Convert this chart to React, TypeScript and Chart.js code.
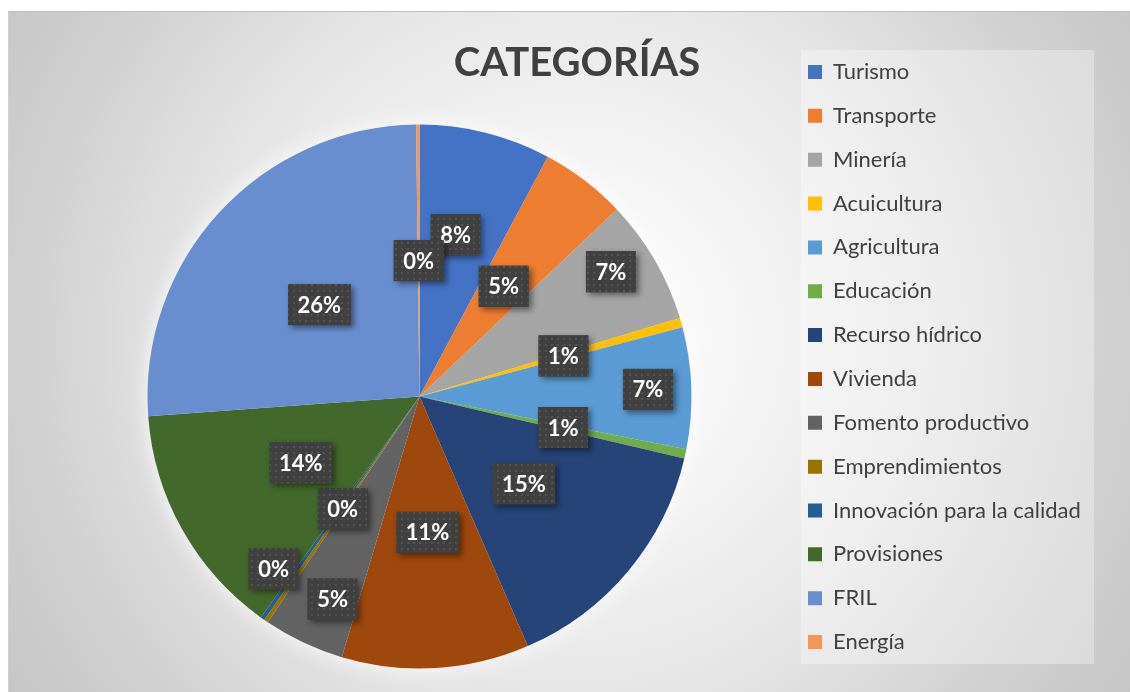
import React, { useEffect, useRef } from "react";
import { Chart, registerables } from "chart.js";

Chart.register(...registerables);

const categories = [
  "Turismo",
  "Transporte",
  "Minería",
  "Acuicultura",
  "Agricultura",
  "Educación",
  "Recurso hídrico",
  "Vivienda",
  "Fomento productivo",
  "Emprendimientos",
  "Innovación para la calidad",
  "Provisiones",
  "FRIL",
  "Energía",
];

const shares = [7.8, 5.1, 7.4, 0.55, 7.2, 0.55, 14.8, 11.1, 4.8, 0.25, 0.25, 13.9, 25.9, 0.2];

const colors = [
  "#4472C4", "#ED7D31", "#A5A5A5", "#FFC000", "#5B9BD5", "#70AD47", "#264478",
  "#9E480E", "#636363", "#997300", "#255E91", "#43682B", "#698ED0", "#F1975A",
];

// label placement (fraction of radius, angular nudge in degrees)
const labelRadius = [0.61, 0.51, 0.84, 0.55, 0.84, 0.54, 0.5, 0.5, 0.81, 0.5, 0.83, 0.5, 0.5, 0.5];
const labelTurn = [-1.5, 0, -3, 0, 0, 0, 0, 0, -2, 0, 5, 0, 0, 0];

const TITLE_TEXT = "CATEGORÍAS";
const FONT = "Lato";
const TEXT_COLOR = "#404040";
const LEG_FONT = 22;
const LEG_PAD = 21.85;
const LEG_LEFT = 777.15;
const TITLE_CENTER_X = 568;
const PIE_RADIUS = 272;

function makePattern(ctx: CanvasRenderingContext2D) {
  const c = document.createElement("canvas");
  c.width = 6;
  c.height = 6;
  const g = c.getContext("2d")!;
  g.fillStyle = "#404040";
  g.fillRect(0, 0, 6, 6);
  g.fillStyle = "#535353";
  g.fillRect(2, 2, 2, 2);
  return ctx.createPattern(c, "repeat");
}

const decorPlugin = {
  id: "decor",
  afterLayout(chart: any) {
    const tb = chart.titleBlock;
    if (tb) {
      const w = tb.right - tb.left;
      tb.left = TITLE_CENTER_X - w / 2;
      tb.right = TITLE_CENTER_X + w / 2;
    }
  },
  beforeDraw(chart: any) {
    const lg = chart.legend;
    if (!lg || !lg.legendHitBoxes || !lg.legendHitBoxes.length) return;
    const hb = lg.legendHitBoxes;
    const first = hb[0];
    const last = hb[hb.length - 1];
    const ctx = chart.ctx;
    const left = first.left - 7;
    const top = first.top - 11;
    const bottom = last.top + last.height + 11;
    ctx.save();
    ctx.fillStyle = "rgba(255,255,255,0.32)";
    ctx.fillRect(left, top, 293, bottom - top);
    ctx.restore();
  },
  beforeDatasetsDraw(chart: any) {
    const meta = chart.getDatasetMeta(0);
    const arc = meta.data[0];
    if (!arc) return;
    const { x, y, outerRadius } = arc.getProps(["x", "y", "outerRadius"], true);
    const ctx = chart.ctx;
    ctx.save();
    ctx.shadowColor = "rgba(255,255,255,0.95)";
    ctx.shadowBlur = 22;
    ctx.fillStyle = "#f4f4f4";
    ctx.beginPath();
    ctx.arc(x, y, outerRadius - 1, 0, Math.PI * 2);
    ctx.fill();
    ctx.restore();
  },
  afterDatasetsDraw(chart: any) {
    const ctx: CanvasRenderingContext2D = chart.ctx;
    const meta = chart.getDatasetMeta(0);
    const data = chart.data.datasets[0].data as number[];
    const total = data.reduce((a, b) => a + b, 0);
    const pattern = makePattern(ctx);
    meta.data.forEach((arc: any, i: number) => {
      const { x, y, startAngle, endAngle, outerRadius } = arc.getProps(
        ["x", "y", "startAngle", "endAngle", "outerRadius"],
        true
      );
      const mid = (startAngle + endAngle) / 2 + (labelTurn[i] * Math.PI) / 180;
      const r = outerRadius * labelRadius[i];
      const cx = x + Math.cos(mid) * r;
      const cy = y + Math.sin(mid) * r;
      const txt = Math.round((data[i] / total) * 100) + "%";
      ctx.save();
      ctx.font = `bold 22px ${FONT}`;
      const w = ctx.measureText(txt).width + 19;
      const h = 41;
      ctx.shadowColor = "rgba(0,0,0,0.45)";
      ctx.shadowBlur = 6;
      ctx.shadowOffsetX = 3;
      ctx.shadowOffsetY = 3;
      ctx.fillStyle = "#404040";
      ctx.fillRect(cx - w / 2, cy - h / 2, w, h);
      ctx.shadowColor = "transparent";
      ctx.shadowBlur = 0;
      ctx.shadowOffsetX = 0;
      ctx.shadowOffsetY = 0;
      if (pattern) {
        ctx.fillStyle = pattern;
        ctx.fillRect(cx - w / 2, cy - h / 2, w, h);
      }
      ctx.fillStyle = "#ffffff";
      ctx.textAlign = "center";
      ctx.textBaseline = "middle";
      ctx.fillText(txt, cx, cy + 1);
      ctx.restore();
    });
  },
};

export default function App() {
  const canvasRef = useRef<HTMLCanvasElement | null>(null);

  useEffect(() => {
    if (!canvasRef.current) return;
    Chart.defaults.font.family = FONT;
    const chart = new Chart(canvasRef.current, {
      type: "pie",
      data: {
        labels: categories,
        datasets: [
          {
            data: shares,
            backgroundColor: colors,
            borderWidth: 0,
            radius: PIE_RADIUS,
          },
        ],
      },
      options: {
        responsive: true,
        maintainAspectRatio: false,
        animation: false,
        layout: {
          padding: { top: 27.15, bottom: 10, left: 43.85, right: 24 },
        },
        plugins: {
          title: {
            display: true,
            text: TITLE_TEXT,
            fullSize: false,
            color: TEXT_COLOR,
            font: { family: FONT, size: 40, weight: "bold", lineHeight: 1 },
            padding: { top: 3.85, bottom: 28.15 },
          },
          legend: {
            position: "right",
            align: "start",
            labels: {
              color: TEXT_COLOR,
              font: { family: FONT, size: LEG_FONT },
              boxWidth: 14,
              boxHeight: 14,
              padding: LEG_PAD,
            },
          },
          tooltip: { enabled: false },
        },
      },
      plugins: [decorPlugin],
    });
    // align legend's left edge precisely
    const lg: any = chart.legend;
    if (lg) {
      const delta = lg.left - LEG_LEFT;
      const pad: any = (chart.options.layout as any).padding;
      pad.right = pad.right + delta;
      chart.update();
    }
    return () => chart.destroy();
  }, []);

  return (
    <div
      style={{
        position: "absolute",
        left: 8,
        top: 11,
        width: 1122,
        height: 681,
        boxSizing: "border-box",
        borderTop: "1px solid #c0c0c0",
        borderLeft: "1px solid #d0d0d0",
        background:
          "radial-gradient(circle farthest-corner at 50% 48%, #ffffff 0%, #f6f6f6 25%, #e6e6e6 55%, #d2d2d2 80%, #c6c6c6 100%)",
      }}
    >
      <canvas ref={canvasRef} />
    </div>
  );
}
